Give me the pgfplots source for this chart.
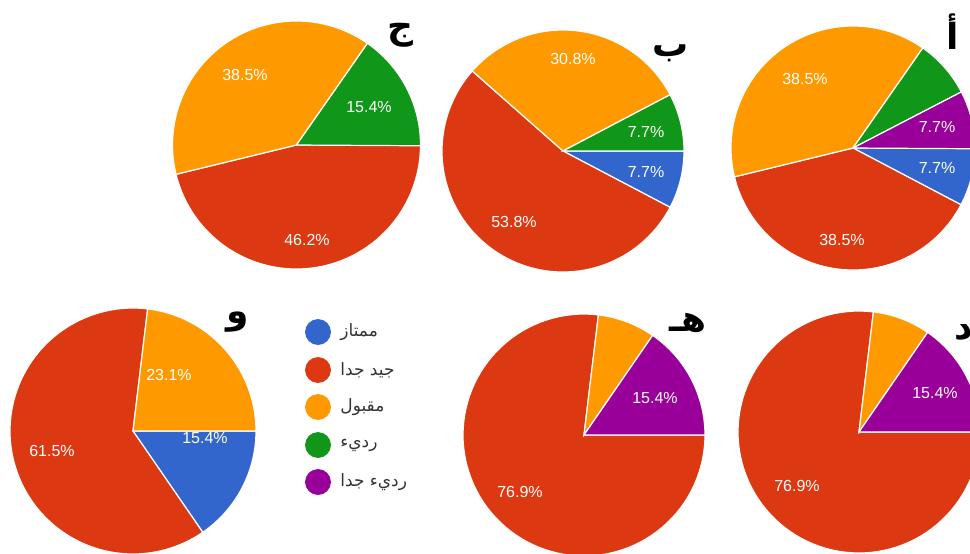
\documentclass[border=0pt]{standalone}
\usepackage{pgfplots}
\pgfplotsset{compat=1.18}
\usepackage{fontspec}
\setmainfont{Liberation Sans}
\newfontfamily\arabicfont[Script=Arabic]{DejaVu Sans}
\TeXXeTstate=1
\definecolor{gblue}{HTML}{3366CC}
\definecolor{gred}{HTML}{DC3912}
\definecolor{gorange}{HTML}{FF9900}
\definecolor{ggreen}{HTML}{109618}
\definecolor{gpurple}{HTML}{990099}
% \slice{cx}{cy}{r}{cumulative start %}{share %}{colour}
\newcommand{\slice}[6]{%
  \addplot[fill=#6, draw=white, line width=0.6pt, domain=-3.6*(#4+#5):-3.6*#4, samples=90, variable=\t]
    ({#1+#3*cos(\t)},{#2-#3*sin(\t)}) -- (axis cs:#1,#2) -- cycle;
}
\newcommand{\pct}[3]{\node[font=\fontsize{8}{9}\selectfont, text=white] at (axis cs:#1,#2) {#3\%};}
\newcommand{\ttl}[3]{\node[font=\arabicfont\bfseries\fontsize{18}{20}\selectfont, text=black] at (axis cs:#1,#2) {#3};}
\newcommand{\leg}[3]{%
  \addplot[only marks, mark=*, mark size=6.25pt, color=#3] coordinates {(318,#1)};
  \node[anchor=west, inner sep=0pt, font=\arabicfont\fontsize{8.5}{10}\selectfont, text=black!80] at (axis cs:340,#1) {#2};
}
\begin{document}
\begin{tikzpicture}
\begin{axis}[scale only axis, width=485pt, height=276.5pt,
  xmin=0, xmax=970, ymin=0, ymax=553, y dir=reverse, hide axis, clip=true]
\addplot[draw=none] coordinates {(0,0) (970,553)};
% Pie ج : جيد جدا 46.2, مقبول 38.5, رديء 15.4
\slice{296.5}{145}{124}{0}{46.2}{gred}
\slice{296.5}{145}{124}{46.2}{38.5}{gorange}
\slice{296.5}{145}{124}{84.7}{15.4}{ggreen}
% Pie ب : ممتاز 7.7, جيد جدا 53.8, مقبول 30.8, رديء 7.7
\slice{563}{151}{121}{0}{7.7}{gblue}
\slice{563}{151}{121}{7.7}{53.8}{gred}
\slice{563}{151}{121}{61.5}{30.8}{gorange}
\slice{563}{151}{121}{92.3}{7.7}{ggreen}
% Pie أ : ممتاز 7.7, جيد جدا 38.5, مقبول 38.5, رديء 7.7, رديء جدا 7.7
\slice{853}{148}{122}{0}{7.7}{gblue}
\slice{853}{148}{122}{7.7}{38.5}{gred}
\slice{853}{148}{122}{46.2}{38.5}{gorange}
\slice{853}{148}{122}{84.7}{7.7}{ggreen}
\slice{853}{148}{122}{92.4}{7.7}{gpurple}
% Pie و : ممتاز 15.4, جيد جدا 61.5, مقبول 23.1
\slice{133}{431}{123}{0}{15.4}{gblue}
\slice{133}{431}{123}{15.4}{61.5}{gred}
\slice{133}{431}{123}{76.9}{23.1}{gorange}
% Pie هـ : جيد جدا 76.9, مقبول 7.7, رديء جدا 15.4
\slice{584}{435}{121}{0}{76.9}{gred}
\slice{584}{435}{121}{76.9}{7.7}{gorange}
\slice{584}{435}{121}{84.6}{15.4}{gpurple}
% Pie د : جيد جدا 76.9, مقبول 7.7, رديء جدا 15.4
\slice{859}{432}{121}{0}{76.9}{gred}
\slice{859}{432}{121}{76.9}{7.7}{gorange}
\slice{859}{432}{121}{84.6}{15.4}{gpurple}
% labels
\pct{245}{75}{38.5}\pct{369}{107}{15.4}\pct{307}{240}{46.2}
\pct{573}{59}{30.8}\pct{646}{132}{7.7}\pct{646}{172}{7.7}\pct{514}{222}{53.8}
\pct{805}{79}{38.5}\pct{937}{127}{7.7}\pct{937}{168}{7.7}\pct{842}{240}{38.5}
\pct{52}{451}{61.5}\pct{169}{375}{23.1}\pct{205}{438}{15.4}
\pct{655}{398}{15.4}\pct{520}{492}{76.9}
\pct{935}{393}{15.4}\pct{797}{486}{76.9}
% titles
\ttl{400}{35}{\beginR ج\endR}
\ttl{671}{53}{\beginR ب\endR}
\ttl{953}{32}{\beginR أ\endR}
\ttl{238}{322}{\beginR و\endR}
\ttl{688}{323}{\beginR هـ\endR}
\ttl{964}{333}{\beginR د\endR}
% legend
\leg{332}{\beginR ممتاز\endR}{gblue}
\leg{370}{\beginR جيد جدا\endR}{gred}
\leg{407}{\beginR مقبول\endR}{gorange}
\leg{445}{\beginR رديء\endR}{ggreen}
\leg{482}{\beginR رديء جدا\endR}{gpurple}
\end{axis}
\pgfresetboundingbox
\useasboundingbox (current axis.south west) rectangle (current axis.north east);
\end{tikzpicture}
\end{document}
